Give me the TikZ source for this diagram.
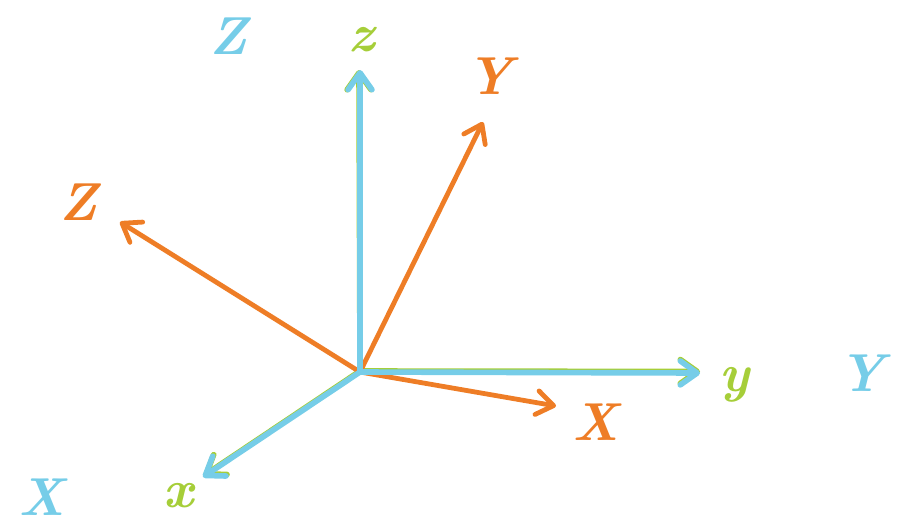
\documentclass[tikz,border=0pt]{standalone}
\usepackage{fontspec}
\usetikzlibrary{arrows.meta}
\definecolor{azul}{HTML}{76CDE8}
\definecolor{naranja}{HTML}{EE7D26}
\definecolor{verde}{HTML}{A6CE39}
\begin{document}
\begin{tikzpicture}[x=0.025cm, y=-0.025cm]
    % Estilos para los ejes
    \tikzstyle{axis_style} = [line cap=round, -{Straight Barb[length=12pt, width=17pt, round]}]
    \tikzstyle{orange_axis} = [axis_style, draw=naranja, line width=3.4pt]
    \tikzstyle{blue_axis} = [axis_style, draw=azul, line width=4pt]
    \tikzstyle{green_axis} = [axis_style, draw=verde, line width=4pt]

    % Estilo para las etiquetas
    \tikzstyle{label_style} = [inner sep=0pt, font=\fontsize{38}{46}\selectfont\bfseries\itshape]

    \useasboundingbox (0,0) rectangle (901,527);

    % Origen y extremos de los ejes
    \coordinate (O) at (360, 372);
    \coordinate (Og) at (360, 371);
    \coordinate (zb) at (360, 70);
    \coordinate (zg) at (359, 70);
    \coordinate (yb) at (700, 373);
    \coordinate (yg) at (700, 371.5);
    \coordinate (xb) at (203, 477);
    \coordinate (xg) at (204, 475.5);
    \coordinate (Xo) at (556, 406);
    \coordinate (Yo) at (483, 122);
    \coordinate (Zo) at (120, 222);

    % Ejes verdes (debajo)
    \draw[green_axis] (Og) -- (zg);
    \draw[green_axis] (Og) -- (yg);
    \draw[green_axis] (Og) -- (xg);

    % Ejes naranjas
    \draw[orange_axis] (O) -- (Xo);
    \draw[orange_axis] (O) -- (Yo);
    \draw[orange_axis] (O) -- (Zo);

    % Ejes azules (encima)
    \draw[blue_axis] (O) -- (zb);
    \draw[blue_axis] (O) -- (yb);
    \draw[blue_axis] (O) -- (xb);

    % Etiquetas
    \node[label_style, text=azul] (Zb_lab) at (228, 36) {Z};
    \node[label_style, text=verde] (zg_lab) at (362, 40) {z};
    \node[label_style, text=naranja] (Yo_lab) at (490, 76) {Y};
    \node[label_style, text=naranja] (Zo_lab) at (78, 202) {Z};
    \node[label_style, text=verde] (yg_lab) at (735, 385) {y};
    \node[label_style, text=azul] (Yb_lab) at (862, 373) {Y};
    \node[label_style, text=naranja] (Xo_lab) at (596, 422) {X};
    \node[label_style, text=azul] (Xb_lab) at (42, 497) {X};
    \node[label_style, text=verde] (xg_lab) at (178, 496) {x};
\end{tikzpicture}
\end{document}
